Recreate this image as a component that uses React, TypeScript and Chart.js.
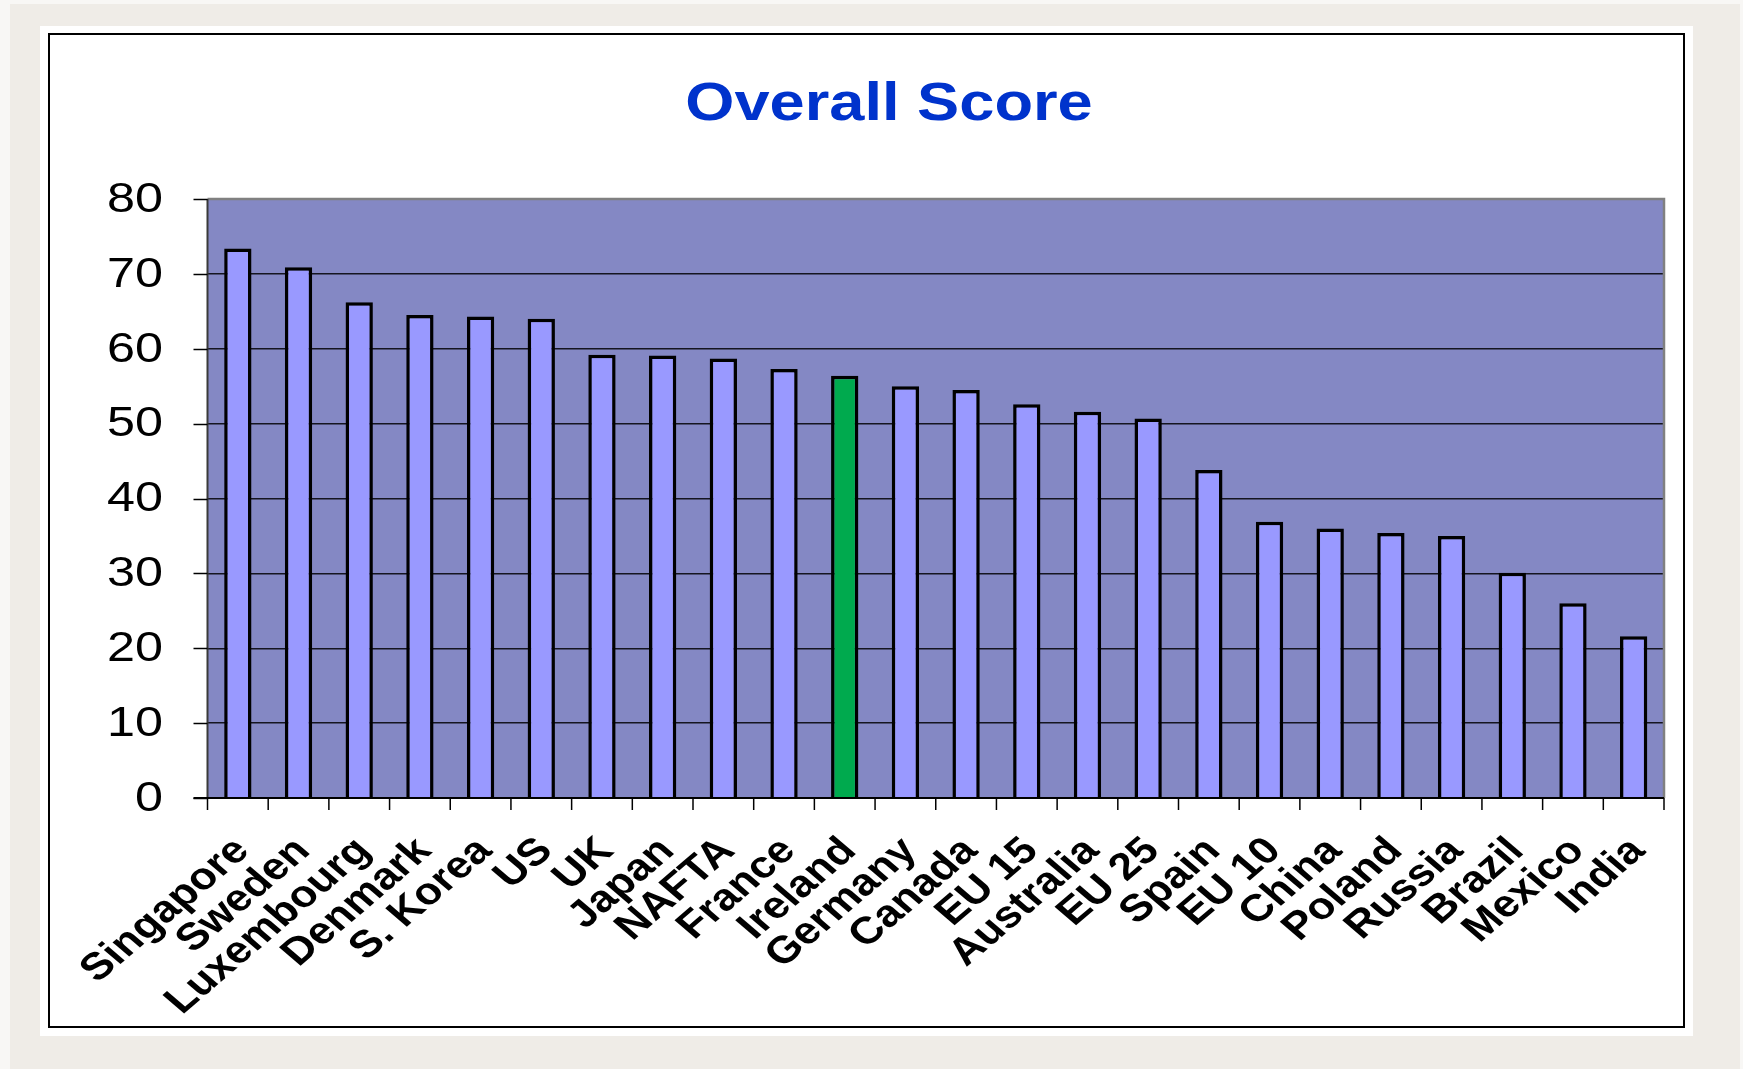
import React, { useEffect, useRef } from "react";
import { Chart, registerables } from "chart.js";

Chart.register(...registerables);

const categories = [
  "Singapore", "Sweden", "Luxembourg", "Denmark", "S. Korea", "US", "UK", "Japan",
  "NAFTA", "France", "Ireland", "Germany", "Canada", "EU 15", "Australia", "EU 25",
  "Spain", "EU 10", "China", "Poland", "Russia", "Brazil", "Mexico", "India",
];
const scores = [
  73.4, 70.9, 66.2, 64.5, 64.3, 64.0, 59.2, 59.1,
  58.7, 57.3, 56.4, 55.0, 54.5, 52.6, 51.6, 50.7,
  43.8, 36.9, 36.0, 35.4, 35.0, 30.1, 26.0, 21.6,
];
const highlighted = ["Ireland"];
const yTicks = [0, 10, 20, 30, 40, 50, 60, 70, 80];
const titleText = "Overall Score";

const W = 1743;
const H = 1069;
const SX = 1.17;
const FONT = '"Liberation Sans", Arial, Helvetica, sans-serif';

const decorPlugin = {
  id: "decor",
  beforeDraw(chart: any) {
    const ctx = chart.ctx as CanvasRenderingContext2D;
    const { left, top, right, bottom } = chart.chartArea;
    ctx.save();
    ctx.fillStyle = "#F8F7F5";
    ctx.fillRect(0, 0, W, H);
    ctx.fillStyle = "#EFECE7";
    ctx.fillRect(10, 4, 1730, H - 4);
    ctx.fillStyle = "#FFFFFF";
    ctx.fillRect(40, 26, 1653, 1010);
    ctx.strokeStyle = "#000";
    ctx.lineWidth = 2;
    ctx.strokeRect(49, 34, 1635, 993);
    ctx.fillStyle = "#8488C4";
    ctx.fillRect(left, top, right - left, bottom - top);
    // title
    ctx.fillStyle = "#0033CC";
    ctx.font = `bold 54px ${FONT}`;
    ctx.textAlign = "center";
    ctx.textBaseline = "alphabetic";
    ctx.translate(889, 120);
    ctx.scale(SX, 1);
    ctx.fillText(titleText, 0, 0);
    ctx.restore();
  },
  afterDraw(chart: any) {
    const ctx = chart.ctx as CanvasRenderingContext2D;
    const { left, top, right, bottom } = chart.chartArea;
    const xs = chart.scales.x;
    const ys = chart.scales.y;
    ctx.save();
    // plot frame: grey top & right
    ctx.strokeStyle = "#808080";
    ctx.lineWidth = 2.5;
    ctx.beginPath();
    ctx.moveTo(left, top);
    ctx.lineTo(right, top);
    ctx.lineTo(right, bottom);
    ctx.stroke();
    // left axis
    ctx.strokeStyle = "#3a3a3a";
    ctx.lineWidth = 2;
    ctx.beginPath();
    ctx.moveTo(left, top);
    ctx.lineTo(left, bottom);
    ctx.stroke();
    // y tick marks
    ctx.strokeStyle = "#000";
    ctx.lineWidth = 1.5;
    yTicks.forEach((v) => {
      const y = Math.round(ys.getPixelForValue(v)) + 0.5;
      ctx.beginPath();
      ctx.moveTo(left - 14, y);
      ctx.lineTo(left, y);
      ctx.stroke();
    });
    // bottom axis
    ctx.lineWidth = 2;
    ctx.beginPath();
    ctx.moveTo(left - 14, bottom);
    ctx.lineTo(right, bottom);
    ctx.stroke();
    // x tick marks at category boundaries
    ctx.lineWidth = 1.5;
    for (let i = 0; i <= categories.length; i++) {
      let x: number;
      if (i === 0) x = left;
      else if (i === categories.length) x = right;
      else x = (xs.getPixelForValue(i - 1) + xs.getPixelForValue(i)) / 2;
      ctx.beginPath();
      ctx.moveTo(x, bottom);
      ctx.lineTo(x, bottom + 12);
      ctx.stroke();
    }
    // y labels
    ctx.fillStyle = "#000";
    ctx.font = `43px ${FONT}`;
    ctx.textAlign = "right";
    ctx.textBaseline = "middle";
    yTicks.forEach((v) => {
      const y = ys.getPixelForValue(v);
      ctx.save();
      ctx.translate(163, y + 1);
      ctx.scale(SX, 1);
      ctx.fillText(String(v), 0, 0);
      ctx.restore();
    });
    // x labels
    ctx.font = `bold 38px ${FONT}`;
    ctx.textAlign = "right";
    ctx.textBaseline = "middle";
    categories.forEach((c, i) => {
      const x = xs.getPixelForValue(i);
      ctx.save();
      ctx.translate(x + 4.5, bottom + 47);
      ctx.scale(SX, 1);
      ctx.rotate(-Math.PI / 4);
      ctx.fillText(c, 0, 0);
      ctx.restore();
    });
    ctx.restore();
  },
};

export default function App() {
  const ref = useRef<HTMLCanvasElement | null>(null);
  useEffect(() => {
    if (!ref.current) return;
    const chart = new Chart(ref.current, {
      type: "bar",
      data: {
        labels: categories,
        datasets: [
          {
            label: titleText,
            data: scores,
            backgroundColor: categories.map((c) => (highlighted.includes(c) ? "#00AA4E" : "#9999FF")),
            borderColor: "#000000",
            borderWidth: 3.5,
            borderSkipped: "bottom",
            barPercentage: 0.45,
            categoryPercentage: 1,
          },
        ],
      },
      options: {
        responsive: false,
        devicePixelRatio: 1,
        animation: false,
        layout: { padding: { left: 207.5, top: 199, right: W - 1664, bottom: H - 798 } },
        plugins: { legend: { display: false }, title: { display: false }, tooltip: { enabled: false } },
        scales: {
          x: {
            grid: { display: false, drawTicks: false },
            border: { display: false },
            ticks: { display: false },
          },
          y: {
            min: 0,
            max: 80,
            ticks: { display: false, stepSize: 10 },
            grid: {
              drawTicks: false,
              color: (c: any) => (c.tick && (c.tick.value === 80 || c.tick.value === 0) ? "rgba(0,0,0,0)" : "#151520"),
              lineWidth: 1.5,
            },
            border: { display: false },
          },
        },
      },
      plugins: [decorPlugin],
    });
    return () => chart.destroy();
  }, []);
  return (
    <div style={{ position: "absolute", left: 0, top: 0, width: W, height: H }}>
      <canvas ref={ref} width={W} height={H} style={{ width: W, height: H, display: "block" }} />
    </div>
  );
}
